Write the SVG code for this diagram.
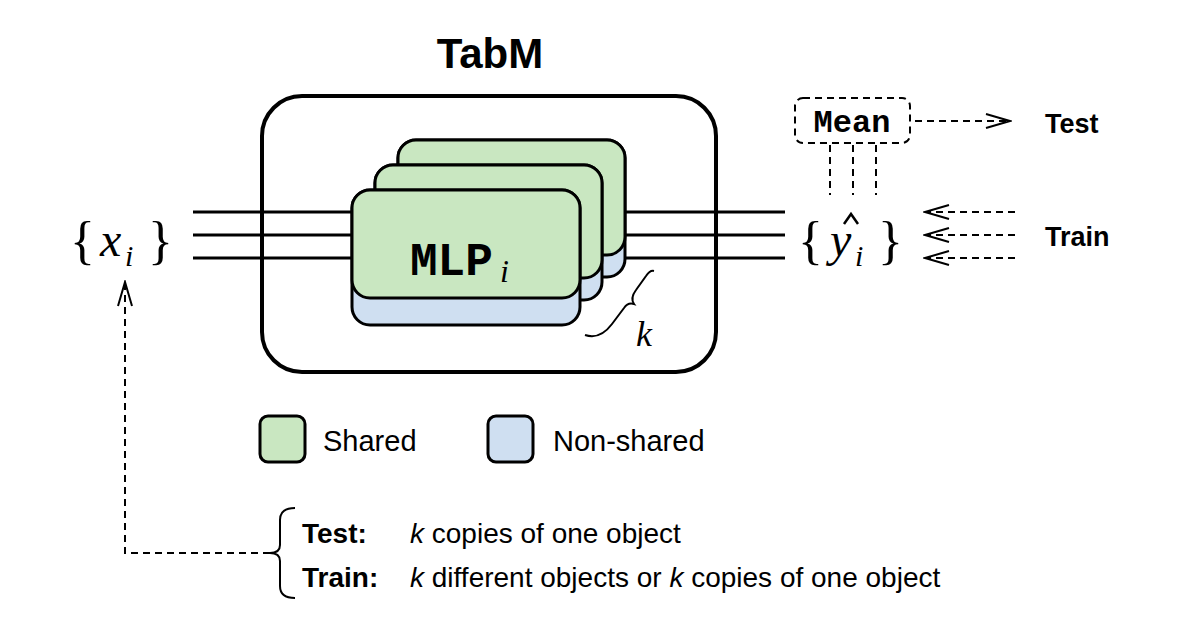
<svg xmlns="http://www.w3.org/2000/svg" width="1200" height="640" viewBox="0 0 1200 640">
<style>
.s{font-family:"Liberation Sans",Arial,sans-serif}
.m{font-family:"Liberation Serif","DejaVu Serif",serif}
.tt{font-family:"Liberation Mono","DejaVu Sans Mono",monospace}
.d{fill:none;stroke:#000;stroke-width:2;stroke-dasharray:7,5}
.ln{stroke:#000;stroke-width:3}
.g{fill:#c9e7c1;stroke:#000;stroke-width:3}
.b{fill:#cfdff1;stroke:#000;stroke-width:3}
</style>
<defs>
<marker id="ah" markerWidth="28" markerHeight="20" refX="26" refY="10" orient="auto" markerUnits="userSpaceOnUse">
<path d="M2,3 L26,10 L2,17" fill="none" stroke="#000" stroke-width="2"/>
</marker>
</defs>
<text x="490" y="68" class="s" font-size="42" font-weight="bold" text-anchor="middle">TabM</text>
<g id="tabm"><rect x="262" y="96" width="454" height="276" rx="40" fill="none" stroke="#000" stroke-width="4"/></g>
<g id="connectors">
<line class="ln" x1="193" y1="212" x2="785" y2="212"/>
<line class="ln" x1="193" y1="235" x2="785" y2="235"/>
<line class="ln" x1="193" y1="258" x2="785" y2="258"/>
<line class="d" x1="830" y1="145" x2="830" y2="195"/>
<line class="d" x1="853" y1="145" x2="853" y2="195"/>
<line class="d" x1="876" y1="145" x2="876" y2="195"/>
<line class="d" x1="915" y1="121" x2="1010" y2="121" marker-end="url(#ah)"/>
<line class="d" x1="1015" y1="212" x2="925" y2="212" marker-end="url(#ah)"/>
<line class="d" x1="1015" y1="235" x2="925" y2="235" marker-end="url(#ah)"/>
<line class="d" x1="1015" y1="258" x2="925" y2="258" marker-end="url(#ah)"/>
<path class="d" d="M270,553 H125 V282" marker-end="url(#ah)"/>
</g>
<g id="mlp3"><rect class="b" x="398" y="140" width="227" height="137" rx="18"/><rect class="g" x="398" y="140" width="227" height="115" rx="18"/></g>
<g id="mlp2"><rect class="b" x="375" y="165" width="227" height="135" rx="18"/><rect class="g" x="375" y="165" width="227" height="113" rx="18"/></g>
<g id="mlp1"><rect class="b" x="352" y="190" width="228" height="135" rx="18"/><rect class="g" x="352" y="190" width="228" height="108" rx="18"/>
<text x="410" y="275" class="tt" font-size="46" font-weight="bold">MLP</text><text x="500" y="282" class="m" font-size="32" font-style="italic">i</text></g>
<g id="kbrace"><path d="M585,335 Q600,340 612,324 L624,308 Q628,302 634,304 Q630,298 636,290 L646,276 Q650,270 654,271" fill="none" stroke="#000" stroke-width="2"/>
<text x="636" y="346" class="m" font-size="36" font-style="italic">k</text></g>
<g id="xi"><text x="70" y="258" class="m" font-size="52">{</text><text x="100" y="256" class="m" font-size="48" font-style="italic">x</text><text x="125" y="266" class="m" font-size="30" font-style="italic">i</text><text x="148" y="258" class="m" font-size="52">}</text></g>
<g id="yi"><text x="798" y="258" class="m" font-size="52">{</text><text x="830" y="256" class="m" font-size="48" font-style="italic">y</text><path d="M844,224 L851,214 L858,224" fill="none" stroke="#000" stroke-width="2.5"/><text x="855" y="266" class="m" font-size="30" font-style="italic">i</text><text x="878" y="258" class="m" font-size="52">}</text></g>
<g id="mean"><rect x="795" y="98" width="115" height="45" rx="8" class="d"/><text x="852" y="132" class="tt" font-size="32" font-weight="bold" text-anchor="middle">Mean</text></g>
<text x="1045" y="133" class="s" font-size="27" font-weight="bold">Test</text>
<text x="1045" y="246" class="s" font-size="27" font-weight="bold">Train</text>
<g id="legend">
<rect x="260" y="416" width="45" height="46" rx="8" class="g"/><text x="323" y="451" class="s" font-size="29">Shared</text>
<rect x="488" y="416" width="45" height="46" rx="8" class="b"/><text x="553" y="451" class="s" font-size="29">Non-shared</text>
</g>
<g id="note">
<path d="M295,508 Q280,508 280,520 V545 Q280,553 270,553 Q280,553 280,561 V586 Q280,598 295,598" fill="none" stroke="#000" stroke-width="2"/>
<text x="302" y="543" class="s" font-size="28" font-weight="bold">Test:</text>
<text x="410" y="543" class="s" font-size="28"><tspan font-style="italic">k</tspan> copies of one object</text>
<text x="302" y="587" class="s" font-size="28" font-weight="bold">Train:</text>
<text x="410" y="587" class="s" font-size="28"><tspan font-style="italic">k</tspan> different objects or <tspan font-style="italic">k</tspan> copies of one object</text>
</g>
</svg>
